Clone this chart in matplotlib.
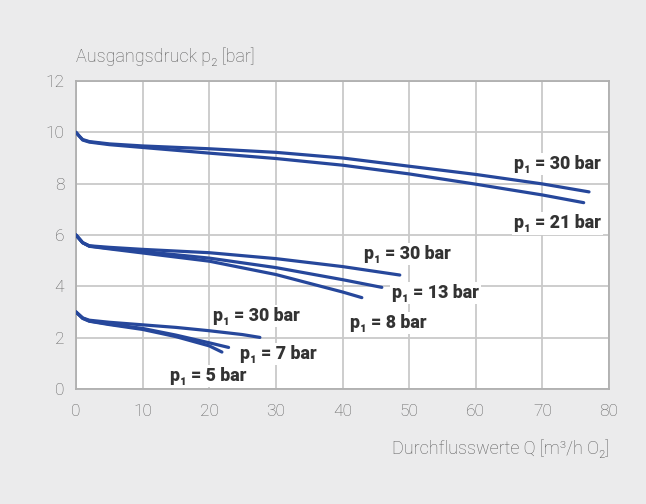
import matplotlib
matplotlib.use("Agg")
import matplotlib.pyplot as plt

plt.rcParams['font.family'] = ['Roboto', 'DejaVu Sans']

# ---- data ----
q_a30 = [0, 0.5, 1, 2, 5, 10, 20, 30, 40, 50, 60, 70, 77]
p_a30 = [10.0, 9.85, 9.72, 9.64, 9.55, 9.47, 9.36, 9.22, 9.0, 8.68, 8.36, 7.99, 7.68]
q_a21 = [0, 0.5, 1, 2, 5, 10, 20, 30, 40, 50, 60, 70, 76.2]
p_a21 = [10.0, 9.85, 9.7, 9.62, 9.52, 9.41, 9.19, 8.98, 8.72, 8.38, 7.98, 7.56, 7.26]

q_b30 = [0, 0.5, 1, 2, 5, 10, 20, 30, 40, 48.6]
p_b30 = [6.0, 5.85, 5.7, 5.58, 5.52, 5.44, 5.31, 5.08, 4.77, 4.44]
q_b13 = [0, 0.5, 1, 2, 5, 10, 20, 30, 40, 45.9]
p_b13 = [6.0, 5.85, 5.7, 5.57, 5.48, 5.36, 5.1, 4.73, 4.26, 3.96]
q_b8 = [0, 0.5, 1, 2, 5, 10, 20, 30, 40, 42.9]
p_b8 = [6.0, 5.85, 5.7, 5.56, 5.46, 5.3, 4.98, 4.46, 3.78, 3.56]

q_c30 = [0, 0.5, 1, 2, 5, 10, 15, 20, 25, 27.6]
p_c30 = [3.0, 2.88, 2.77, 2.68, 2.6, 2.5, 2.4, 2.27, 2.12, 2.01]
q_c7 = [0, 0.5, 1, 2, 5, 10, 15, 20, 22.9]
p_c7 = [3.0, 2.88, 2.76, 2.65, 2.53, 2.36, 2.1, 1.8, 1.62]
q_c5 = [0, 0.5, 1, 2, 5, 10, 15, 20, 21.9]
p_c5 = [3.0, 2.88, 2.75, 2.64, 2.51, 2.32, 2.04, 1.68, 1.44]

labels = ["p₁ = 30 bar", "p₁ = 21 bar", "p₁ = 30 bar", "p₁ = 13 bar", "p₁ = 8 bar",
          "p₁ = 30 bar", "p₁ = 7 bar", "p₁ = 5 bar"]
label_q = [72.3, 72.3, 49.7, 54.0, 46.9, 27.0, 30.3, 19.8]
label_p = [8.77, 6.45, 5.25, 3.73, 2.56, 2.84, 1.35, 0.52]

x_ticks = [0, 10, 20, 30, 40, 50, 60, 70, 80]
y_ticks = [0, 2, 4, 6, 8, 10, 12]

# ---- figure ----
bg = '#ebebec'
line_color = '#26479b'
fig = plt.figure(figsize=(6.46, 5.04), dpi=100, facecolor=bg)
ax = fig.add_axes([76/646, 1 - 389/504, (609-76)/646, (389-81)/504])
ax.set_facecolor('white')

for q, p in [(q_a30, p_a30), (q_a21, p_a21), (q_b30, p_b30), (q_b13, p_b13),
             (q_b8, p_b8), (q_c30, p_c30), (q_c7, p_c7), (q_c5, p_c5)]:
    ax.plot(q, p, color=line_color, lw=2.3, solid_capstyle='round',
            solid_joinstyle='round', zorder=3)

for t, x, y in zip(labels, label_q, label_p):
    ax.text(x, y, t, ha='center', va='center', fontsize=12.8, fontweight='heavy',
            color='#333333', zorder=4,
            bbox=dict(boxstyle='square,pad=0.12', fc='white', ec='none'))

ax.set_xlim(0, 80)
ax.set_ylim(0, 12)
ax.set_xticks(x_ticks)
ax.set_yticks(y_ticks)
ax.grid(True, color='#c9c9c9', lw=1.3, zorder=0)
ax.set_axisbelow(True)
for s in ax.spines.values():
    s.set_color('#b0b0b0')
    s.set_linewidth(1.3)
ax.tick_params(length=0, labelsize=12.5, labelcolor='#606060')
ax.tick_params(axis='x', pad=11)
ax.tick_params(axis='y', pad=8.5)
for lab in ax.get_xticklabels() + ax.get_yticklabels():
    lab.set_fontweight('light')

fig.text(76/646, 1 - 57/504, "Ausgangsdruck p₂ [bar]", ha='left', va='center',
         fontsize=13, color='#5c5c5c', fontweight='light')
fig.text(609/646, 1 - 449/504, "Durchflusswerte Q [m³/h O₂]", ha='right', va='center',
         fontsize=13, color='#5c5c5c', fontweight='light')

fig.savefig('out.png', dpi=100, facecolor=bg)
